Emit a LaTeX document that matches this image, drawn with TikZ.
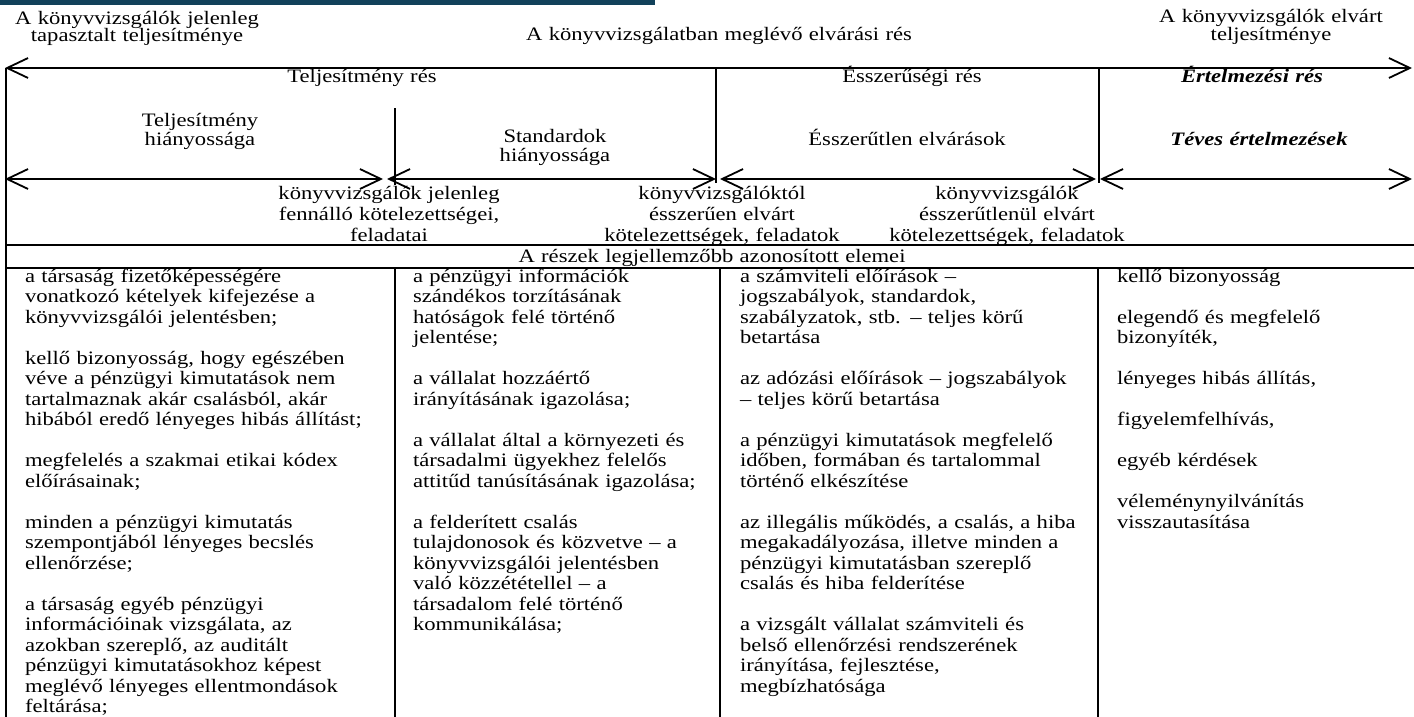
\documentclass[tikz,border=0pt]{standalone}
\usepackage{fontspec}
\setmainfont{Liberation Serif}[FakeStretch=1.19]
\usetikzlibrary{arrows.meta}
\definecolor{barteal}{RGB}{18,65,90}
\begin{document}
\begin{tikzpicture}[x=1pt,y=-1pt,
  every node/.style={inner sep=0pt,outer sep=0pt,font=\fontsize{19}{20.5}\selectfont},
  rule/.style={line width=1.8pt},
  span/.style={line width=1.8pt,{Straight Barb[length=21pt,width=20pt]}-{Straight Barb[length=21pt,width=20pt]}},
  head/.style={anchor=base,align=center,text width=420pt,font=\fontsize{19}{17.5}\selectfont},
  lbl/.style={anchor=base,align=center,text width=420pt},
  lbltwo/.style={anchor=base,align=center,text width=420pt,font=\fontsize{19}{20}\selectfont},
  lblthree/.style={anchor=base,align=center,text width=420pt,font=\fontsize{19}{21}\selectfont},
  bi/.style={font=\fontsize{19}{20.5}\selectfont\bfseries\itshape},
  coltext/.style={anchor=base west,align=left,text width=500pt}
]
\useasboundingbox (0,0) rectangle (1414,717);
\fill[barteal] (0,0) rectangle (655,5);

% coordinates
\coordinate (tl) at (5,68);
\coordinate (tr) at (1412,68);
\coordinate (lv0) at (6,68);
\coordinate (lv1) at (6,717);
\coordinate (va0) at (716,68);
\coordinate (va1) at (716,183);
\coordinate (vb0) at (1099,68);
\coordinate (vb1) at (1099,183);
\coordinate (vc0) at (395,108);
\coordinate (vc1) at (395,185);
\coordinate (a1) at (5,179);
\coordinate (a2) at (383,179);
\coordinate (b1) at (387,179);
\coordinate (b2) at (716,179);
\coordinate (c1) at (720,179);
\coordinate (c2) at (1096,179);
\coordinate (d1) at (1100,179);
\coordinate (d2) at (1412,179);
\coordinate (h1a) at (6,245);
\coordinate (h1b) at (1414,245);
\coordinate (h2a) at (6,268);
\coordinate (h2b) at (1414,268);
\coordinate (k1a) at (395,268);
\coordinate (k1b) at (395,717);
\coordinate (k2a) at (720,268);
\coordinate (k2b) at (720,717);
\coordinate (k3a) at (1098,268);
\coordinate (k3b) at (1098,717);

% lines
\draw[span] (tl) -- (tr);
\draw[rule] (lv0) -- (lv1);
\draw[rule] (va0) -- (va1);
\draw[rule] (vb0) -- (vb1);
\draw[rule] (vc0) -- (vc1);
\draw[span] (a1) -- (a2);
\draw[span] (b1) -- (b2);
\draw[span] (c1) -- (c2);
\draw[span] (d1) -- (d2);
\draw[rule] (h1a) -- (h1b);
\draw[rule] (h2a) -- (h2b);
\draw[rule] (k1a) -- (k1b);
\draw[rule] (k2a) -- (k2b);
\draw[rule] (k3a) -- (k3b);

% top headings
\node[head] (t1) at (137,24.5) {A könyvvizsgálók jelenleg\\tapasztalt teljesítménye};
\node[lbl] (t2) at (719,41) {A könyvvizsgálatban meglévő elvárási rés};
\node[head] (t3) at (1271,23) {A könyvvizsgálók elvárt\\teljesítménye};

\node[lbl] (g1) at (362,82) {Teljesítmény rés};
\node[lbl] (g2) at (912,82) {Ésszerűségi rés};
\node[lbl,bi] (g3) at (1252,82) {Értelmezési rés};

\node[anchor=base,align=center,text width=420pt,font=\fontsize{19}{19}\selectfont] (s1) at (200,126) {Teljesítmény\\hiányossága};
\node[lbltwo] (s2) at (555,142) {Standardok\\hiányossága};
\node[lbl] (s3) at (907,145) {Ésszerűtlen elvárások};
\node[lbl,bi] (s4) at (1259,145) {Téves értelmezések};

\node[lblthree] (o1) at (389,199) {könyvvizsgálók jelenleg\\fennálló kötelezettségei,\\feladatai};
\node[lblthree] (o2) at (722,199) {könyvvizsgálóktól\\ésszerűen elvárt\\kötelezettségek, feladatok};
\node[lblthree] (o3) at (1007,199) {könyvvizsgálók\\ésszerűtlenül elvárt\\kötelezettségek, feladatok};

\node[lbl] (row) at (712,262) {A részek legjellemzőbb azonosított elemei};

% columns
\node[coltext] (col1) at (25,282) {a társaság fizetőképességére\\
vonatkozó kételyek kifejezése a\\
könyvvizsgálói jelentésben;\\[20.5pt]
kellő bizonyosság, hogy egészében\\
véve a pénzügyi kimutatások nem\\
tartalmaznak akár csalásból, akár\\
hibából eredő lényeges hibás állítást;\\[20.5pt]
megfelelés a szakmai etikai kódex\\
előírásainak;\\[20.5pt]
minden a pénzügyi kimutatás\\
szempontjából lényeges becslés\\
ellenőrzése;\\[20.5pt]
a társaság egyéb pénzügyi\\
információinak vizsgálata, az\\
azokban szereplő, az auditált\\
pénzügyi kimutatásokhoz képest\\
meglévő lényeges ellentmondások\\
feltárása;};

\node[coltext] (col2) at (413,282) {a pénzügyi információk\\
szándékos torzításának\\
hatóságok felé történő\\
jelentése;\\[20.5pt]
a vállalat hozzáértő\\
irányításának igazolása;\\[20.5pt]
a vállalat által a környezeti és\\
társadalmi ügyekhez felelős\\
attitűd tanúsításának igazolása;\\[20.5pt]
a felderített csalás\\
tulajdonosok és közvetve – a\\
könyvvizsgálói jelentésben\\
való közzététellel – a\\
társadalom felé történő\\
kommunikálása;};

\node[coltext] (col3) at (740,282) {a számviteli előírások –\\
jogszabályok, standardok,\\
szabályzatok, stb. – teljes körű\\
betartása\\[20.5pt]
az adózási előírások – jogszabályok\\
– teljes körű betartása\\[20.5pt]
a pénzügyi kimutatások megfelelő\\
időben, formában és tartalommal\\
történő elkészítése\\[20.5pt]
az illegális működés, a csalás, a hiba\\
megakadályozása, illetve minden a\\
pénzügyi kimutatásban szereplő\\
csalás és hiba felderítése\\[20.5pt]
a vizsgált vállalat számviteli és\\
belső ellenőrzési rendszerének\\
irányítása, fejlesztése,\\
megbízhatósága};

\node[coltext] (col4) at (1117,282) {kellő bizonyosság\\[20.5pt]
elegendő és megfelelő\\
bizonyíték,\\[20.5pt]
lényeges hibás állítás,\\[20.5pt]
figyelemfelhívás,\\[20.5pt]
egyéb kérdések\\[20.5pt]
véleménynyilvánítás\\
visszautasítása};
\end{tikzpicture}
\end{document}
